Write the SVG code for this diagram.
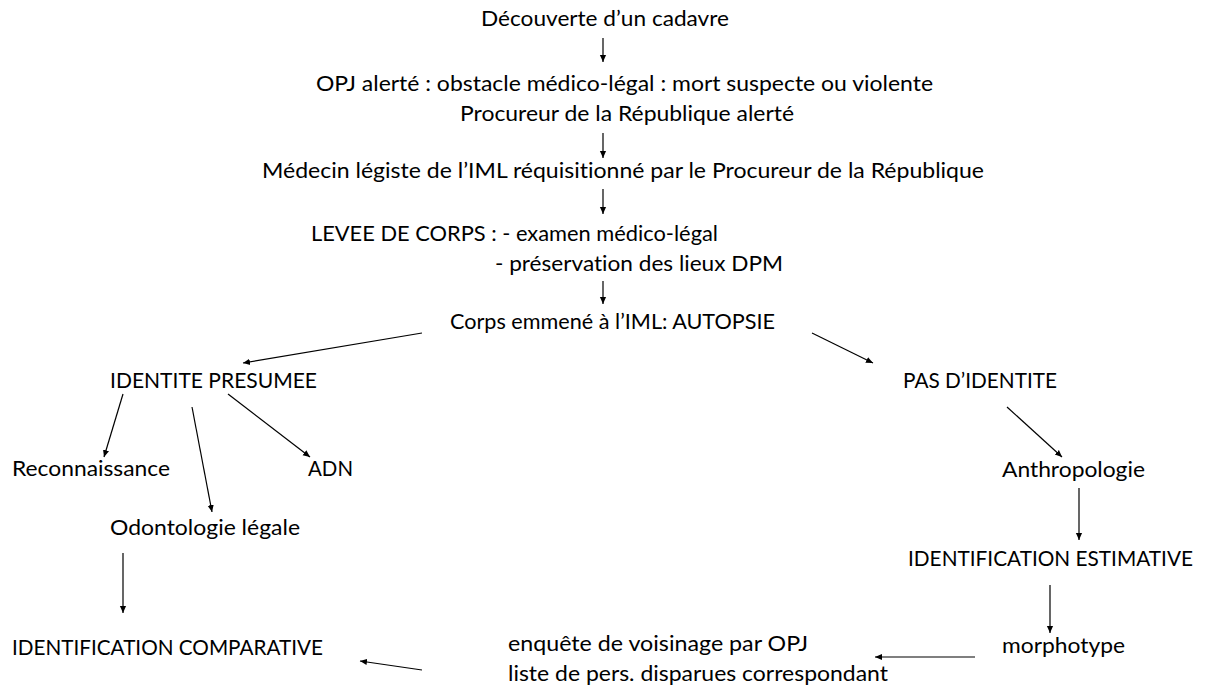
<svg xmlns="http://www.w3.org/2000/svg" width="1205" height="691" viewBox="0 0 1205 691">
<defs>
<marker id="ah" markerWidth="8" markerHeight="8" refX="7" refY="4" orient="auto" markerUnits="userSpaceOnUse">
<path d="M0,0.9 L7,4 L0,7.1 Z" fill="#000"/>
</marker>
<style>
text{font-family:Lato,"Liberation Sans",sans-serif;font-size:21px;fill:#000;font-variant-ligatures:none}
line{stroke:#000;stroke-width:1.2;marker-end:url(#ah)}
</style>
</defs>
<rect width="1205" height="691" fill="#fff"/>
<g id="connectors">
<line x1="603" y1="38" x2="603" y2="62"/>
<line x1="603" y1="133" x2="603" y2="158"/>
<line x1="603" y1="189" x2="603" y2="214"/>
<line x1="603" y1="281" x2="603" y2="304"/>
<line x1="422" y1="333" x2="243" y2="363"/>
<line x1="812" y1="333" x2="873" y2="363"/>
<line x1="123" y1="394" x2="104" y2="457"/>
<line x1="192" y1="407" x2="212" y2="512"/>
<line x1="228" y1="394" x2="310" y2="457"/>
<line x1="123" y1="553" x2="123" y2="613"/>
<line x1="422" y1="670" x2="360" y2="661"/>
<line x1="1007" y1="407" x2="1062" y2="457"/>
<line x1="1079" y1="488" x2="1079" y2="540"/>
<line x1="1050" y1="585" x2="1050" y2="633"/>
<line x1="975" y1="657" x2="875" y2="657"/>
</g>
<g id="n-decouverte"><text x="481" y="26" textLength="248" lengthAdjust="spacingAndGlyphs">Découverte d’un cadavre</text></g>
<g id="n-opj"><text x="316" y="91" textLength="617" lengthAdjust="spacingAndGlyphs">OPJ alerté : obstacle médico-légal : mort suspecte ou violente</text><text x="460" y="121" textLength="334" lengthAdjust="spacingAndGlyphs">Procureur de la République alerté</text></g>
<g id="n-medecin"><text x="262" y="178" textLength="722" lengthAdjust="spacingAndGlyphs">Médecin légiste de l’IML réquisitionné par le Procureur de la République</text></g>
<g id="n-levee"><text x="311" y="241" textLength="407" lengthAdjust="spacingAndGlyphs">LEVEE DE CORPS : - examen médico-légal</text><text x="495" y="271" textLength="288" lengthAdjust="spacingAndGlyphs">- préservation des lieux DPM</text></g>
<g id="n-corps"><text x="450" y="329" textLength="325" lengthAdjust="spacingAndGlyphs">Corps emmené à l’IML: AUTOPSIE</text></g>
<g id="n-identite"><text x="110" y="388" textLength="207" lengthAdjust="spacingAndGlyphs">IDENTITE PRESUMEE</text></g>
<g id="n-pas"><text x="903" y="388" textLength="154" lengthAdjust="spacingAndGlyphs">PAS D’IDENTITE</text></g>
<g id="n-reco"><text x="12" y="476" textLength="158" lengthAdjust="spacingAndGlyphs">Reconnaissance</text></g>
<g id="n-adn"><text x="308" y="476" textLength="45" lengthAdjust="spacingAndGlyphs">ADN</text></g>
<g id="n-odonto"><text x="110" y="535" textLength="190" lengthAdjust="spacingAndGlyphs">Odontologie légale</text></g>
<g id="n-ic"><text x="12" y="655" textLength="311" lengthAdjust="spacingAndGlyphs">IDENTIFICATION COMPARATIVE</text></g>
<g id="n-anthro"><text x="1002" y="477" textLength="143" lengthAdjust="spacingAndGlyphs">Anthropologie</text></g>
<g id="n-ie"><text x="908" y="566" textLength="285" lengthAdjust="spacingAndGlyphs">IDENTIFICATION ESTIMATIVE</text></g>
<g id="n-morpho"><text x="1002" y="653" textLength="123" lengthAdjust="spacingAndGlyphs">morphotype</text></g>
<g id="n-enquete"><text x="508" y="651" textLength="300" lengthAdjust="spacingAndGlyphs">enquête de voisinage par OPJ</text><text x="508" y="681" textLength="380" lengthAdjust="spacingAndGlyphs">liste de pers. disparues correspondant</text></g>
</svg>
